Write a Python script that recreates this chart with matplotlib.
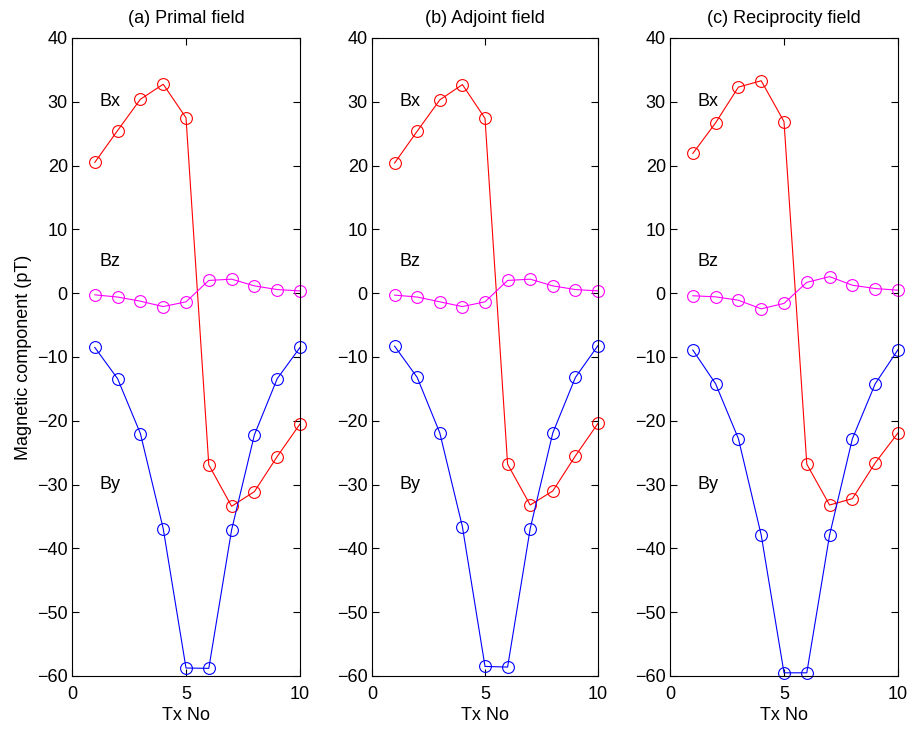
import matplotlib
matplotlib.use("Agg")
import matplotlib.pyplot as plt

plt.rcParams['font.family'] = ['Liberation Sans', 'DejaVu Sans']

tx = [1, 2, 3, 4, 5, 6, 7, 8, 9, 10]

titles = ["(a) Primal field", "(b) Adjoint field", "(c) Reciprocity field"]

bx_primal = [20.5, 25.5, 30.4, 32.75, 27.5, -26.9, -33.4, -31.1, -25.6, -20.5]
by_primal = [-8.5, -13.4, -22.0, -36.9, -58.75, -58.8, -37.1, -22.2, -13.4, -8.5]
bz_primal = [-0.26, -0.6, -1.25, -2.1, -1.35, 2.0, 2.2, 1.15, 0.57, 0.36]

bx_adjoint = [20.4, 25.4, 30.3, 32.7, 27.4, -26.8, -33.2, -31.0, -25.5, -20.4]
by_adjoint = [-8.3, -13.2, -21.9, -36.6, -58.5, -58.6, -36.9, -21.9, -13.2, -8.2]
bz_adjoint = [-0.3, -0.6, -1.35, -2.1, -1.35, 2.0, 2.2, 1.15, 0.57, 0.36]

bx_recip = [21.9, 26.7, 32.3, 33.3, 26.9, -26.8, -33.2, -32.2, -26.6, -21.9]
by_recip = [-8.9, -14.2, -22.8, -37.9, -59.5, -59.5, -37.9, -22.8, -14.2, -8.85]
bz_recip = [-0.4, -0.57, -1.1, -2.45, -1.6, 1.7, 2.6, 1.25, 0.73, 0.47]

panels = [
    (bx_primal, by_primal, bz_primal),
    (bx_adjoint, by_adjoint, bz_adjoint),
    (bx_recip, by_recip, bz_recip),
]

fig = plt.figure(figsize=(9.15, 7.29), dpi=100)
lefts = [72 / 915, 372 / 915, 670 / 915]
widths = [228 / 915, 226 / 915, 228 / 915]
bottom = (729 - 676) / 729
height = 638 / 729

fs = 13
for i, (bx, by, bz) in enumerate(panels):
    ax = fig.add_axes([lefts[i], bottom, widths[i], height])
    mk = dict(marker='o', markerfacecolor='none', markersize=8.5, linewidth=0.8,
              markeredgewidth=0.8, clip_on=False)
    ax.plot(tx, bx, color='#ff0000', **mk)
    ax.plot(tx, bz, color='#ff00ff', **mk)
    ax.plot(tx, by, color='#0000ff', **mk)
    ax.set_xlim(0, 10)
    ax.set_ylim(-60, 40)
    ax.set_xticks([0, 5, 10])
    ax.set_yticks(range(-60, 41, 10))
    ax.tick_params(direction='in', top=True, right=True, labelsize=fs, length=5, width=0.8)
    ax.tick_params(axis='x', pad=7)
    ax.tick_params(axis='y', pad=3)
    for s in ax.spines.values():
        s.set_linewidth(0.8)
    ax.text(1.2, 30, "Bx", fontsize=fs, va='center', ha='left')
    ax.text(1.2, 5, "Bz", fontsize=fs, va='center', ha='left')
    ax.text(1.2, -30, "By", fontsize=fs, va='center', ha='left')
    ax.set_title(titles[i], fontsize=fs, pad=11)
    ax.set_xlabel("Tx No", fontsize=fs, labelpad=3)
    if i == 0:
        ax.set_ylabel("Magnetic component (pT)", fontsize=fs, labelpad=4)

fig.savefig("out.png", dpi=100)
